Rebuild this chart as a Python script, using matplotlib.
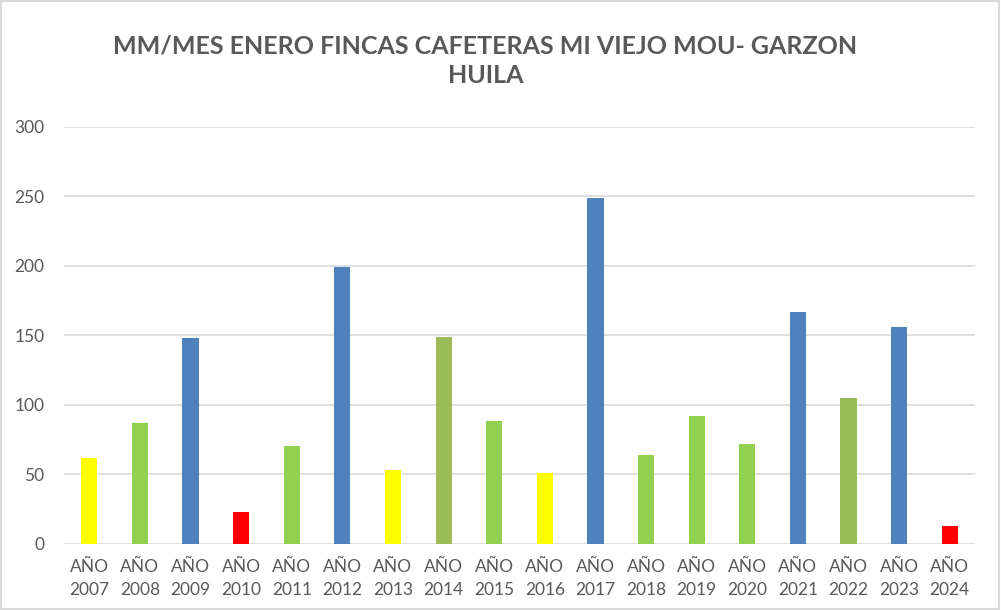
import matplotlib.pyplot as plt
from matplotlib.patches import Rectangle

years = ["AÑO\n2007", "AÑO\n2008", "AÑO\n2009", "AÑO\n2010", "AÑO\n2011", "AÑO\n2012",
         "AÑO\n2013", "AÑO\n2014", "AÑO\n2015", "AÑO\n2016", "AÑO\n2017", "AÑO\n2018",
         "AÑO\n2019", "AÑO\n2020", "AÑO\n2021", "AÑO\n2022", "AÑO\n2023", "AÑO\n2024"]
mm = [62, 87, 148, 23, 70, 199, 53, 149, 88, 51, 249, 64, 92, 72, 167, 105, 156, 13]
colors = ["#FFFF00", "#92D050", "#4F81BD", "#FF0000", "#92D050", "#4F81BD",
          "#FFFF00", "#9BBB59", "#92D050", "#FFFF00", "#4F81BD", "#92D050",
          "#92D050", "#92D050", "#4F81BD", "#9BBB59", "#4F81BD", "#FF0000"]

plt.rcParams['font.family'] = ['Lato', 'DejaVu Sans']

fig = plt.figure(figsize=(10.01, 6.10), dpi=100)
ax = fig.add_axes([0.064, 0.1087, 0.910, 0.6836])

x = range(len(years))
ax.bar(x, mm, width=0.32, color=colors, zorder=3)

ax.set_ylim(0, 300)
ax.set_xlim(-0.5, len(years) - 0.5)
ax.set_yticks(range(0, 301, 50))
ax.set_xticks(list(x))
ax.set_xticklabels(years, linespacing=1.55)
ax.tick_params(axis="both", length=0, labelsize=12.5, colors="#595959")
ax.tick_params(axis="y", pad=14)
ax.tick_params(axis="x", pad=11)
ax.grid(axis="y", color="#D9D9D9", linewidth=1.2, zorder=0)
for s in ax.spines.values():
    s.set_visible(False)

fig.text(0.485, 0.901, "MM/MES ENERO FINCAS CAFETERAS MI VIEJO MOU- GARZON\nHUILA",
         ha="center", va="center", fontsize=18, fontweight="bold", color="#595959",
         linespacing=1.35)

fig.patches.append(Rectangle((0.001, 0.002), 0.997, 0.996, transform=fig.transFigure,
                             fill=False, edgecolor="#D9D9D9", linewidth=1.5))

fig.savefig("out.png", dpi=100)
